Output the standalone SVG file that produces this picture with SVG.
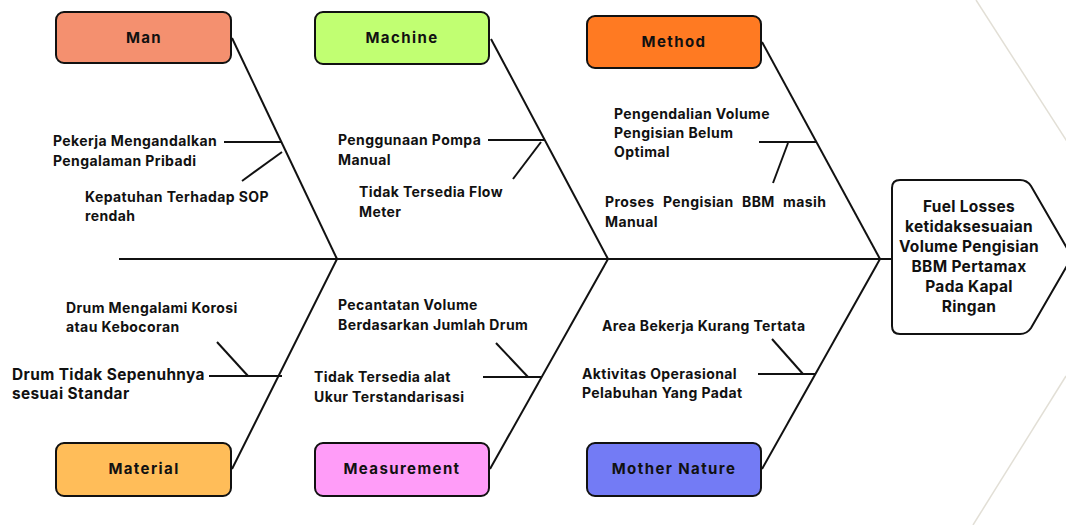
<svg xmlns="http://www.w3.org/2000/svg" width="1066" height="525" viewBox="0 0 1066 525">
<style>
.box{stroke:#111;stroke-width:2;}
.bl{font-family:Inter,"Open Sans",sans-serif;font-weight:700;font-size:15px;letter-spacing:1.4px;fill:#111;text-anchor:middle;}
.t{font-family:Inter,"Open Sans",sans-serif;font-weight:700;font-size:14px;letter-spacing:0.4px;fill:#111;}
.tl{font-size:15.4px;}
.hd{font-family:Inter,"Open Sans",sans-serif;font-weight:700;font-size:15.5px;letter-spacing:0.3px;fill:#111;text-anchor:middle;}
.bone{stroke:#111;stroke-width:2;fill:none;stroke-linecap:butt;}
.faint{stroke:#e2dfd6;stroke-width:1.5;fill:none;}
</style>
<rect width="1066" height="525" fill="#fff"/>
<g id="decor">
<line class="faint" x1="976" y1="0" x2="1068" y2="143"/>
<line class="faint" x1="1066" y1="376" x2="973" y2="525"/>
</g>
<g id="connectors">
<line class="bone" x1="119" y1="259" x2="892" y2="259"/>
<line class="bone" x1="232" y1="38" x2="337" y2="259"/>
<line class="bone" x1="491" y1="39" x2="608" y2="259"/>
<line class="bone" x1="762" y1="42" x2="880" y2="259"/>
<line class="bone" x1="232" y1="469" x2="337" y2="259"/>
<line class="bone" x1="490" y1="469" x2="608" y2="259"/>
<line class="bone" x1="762" y1="469" x2="880" y2="259"/>
<line class="bone" x1="224" y1="142" x2="281" y2="142"/>
<line class="bone" x1="242" y1="181" x2="282" y2="152"/>
<line class="bone" x1="488" y1="140" x2="545" y2="140"/>
<line class="bone" x1="513" y1="179" x2="541" y2="142"/>
<line class="bone" x1="759" y1="142" x2="817" y2="142"/>
<line class="bone" x1="773" y1="183" x2="788" y2="143"/>
<line class="bone" x1="209" y1="376" x2="282" y2="376"/>
<line class="bone" x1="217" y1="342" x2="248" y2="376"/>
<line class="bone" x1="483" y1="377" x2="541" y2="377"/>
<line class="bone" x1="496" y1="343" x2="528" y2="377"/>
<line class="bone" x1="758" y1="374" x2="816" y2="374"/>
<line class="bone" x1="772" y1="339" x2="803" y2="374"/>
</g>
<g id="man">
<rect class="box" x="56" y="12" width="175" height="51" rx="8" fill="#F4906F"/>
<text class="bl" x="144" y="43">Man</text>
</g>
<g id="machine">
<rect class="box" x="315" y="12" width="174" height="52" rx="8" fill="#C1FF72"/>
<text class="bl" x="402" y="43">Machine</text>
</g>
<g id="method">
<rect class="box" x="587" y="16" width="174" height="52" rx="8" fill="#FF7A22"/>
<text class="bl" x="674" y="47">Method</text>
</g>
<g id="material">
<rect class="box" x="56" y="443" width="175" height="53" rx="8" fill="#FFBD59"/>
<text class="bl" x="144" y="474">Material</text>
</g>
<g id="measurement">
<rect class="box" x="315" y="443" width="174" height="53" rx="8" fill="#FF9CF8"/>
<text class="bl" x="402" y="474">Measurement</text>
</g>
<g id="mother-nature">
<rect class="box" x="587" y="443" width="174" height="53" rx="8" fill="#737BF5"/>
<text class="bl" x="674" y="474">Mother Nature</text>
</g>
<g id="head">
<path class="box" fill="#fff" d="M900,180 H1020 Q1027,180 1031,186 L1072,257 L1031,328 Q1027,334 1020,334 H900 Q892,334 892,326 V188 Q892,180 900,180 Z"/>
<text class="hd" x="969" y="212">Fuel Losses</text>
<text class="hd" x="969" y="232">ketidaksesuaian</text>
<text class="hd" x="969" y="252">Volume Pengisian</text>
<text class="hd" x="969" y="272">BBM Pertamax</text>
<text class="hd" x="969" y="292">Pada Kapal</text>
<text class="hd" x="969" y="312">Ringan</text>
</g>
<g id="causes">
<text class="t" x="53" y="146">Pekerja Mengandalkan</text>
<text class="t" x="53" y="166">Pengalaman Pribadi</text>
<text class="t" x="85" y="202">Kepatuhan Terhadap SOP</text>
<text class="t" x="85" y="221">rendah</text>
<text class="t" x="338" y="145">Penggunaan Pompa</text>
<text class="t" x="338" y="165">Manual</text>
<text class="t" x="359" y="197">Tidak Tersedia Flow</text>
<text class="t" x="359" y="217">Meter</text>
<text class="t" x="614" y="119">Pengendalian Volume</text>
<text class="t" x="614" y="138">Pengisian Belum</text>
<text class="t" x="614" y="157">Optimal</text>
<text class="t" y="207"><tspan x="605">Proses</tspan><tspan x="663">Pengisian</tspan><tspan x="742">BBM</tspan><tspan x="783">masih</tspan></text>
<text class="t" x="605" y="227">Manual</text>
<text class="t" x="66" y="313">Drum Mengalami Korosi</text>
<text class="t" x="66" y="332">atau Kebocoran</text>
<text class="t tl" x="12" y="380">Drum Tidak Sepenuhnya</text>
<text class="t tl" x="12" y="399">sesuai Standar</text>
<text class="t" x="338" y="310">Pecantatan Volume</text>
<text class="t" x="338" y="330">Berdasarkan Jumlah Drum</text>
<text class="t" x="314" y="382">Tidak Tersedia alat</text>
<text class="t" x="314" y="402">Ukur Terstandarisasi</text>
<text class="t" x="602" y="331">Area Bekerja Kurang Tertata</text>
<text class="t" x="582" y="379">Aktivitas Operasional</text>
<text class="t" x="582" y="398">Pelabuhan Yang Padat</text>
</g>
</svg>
